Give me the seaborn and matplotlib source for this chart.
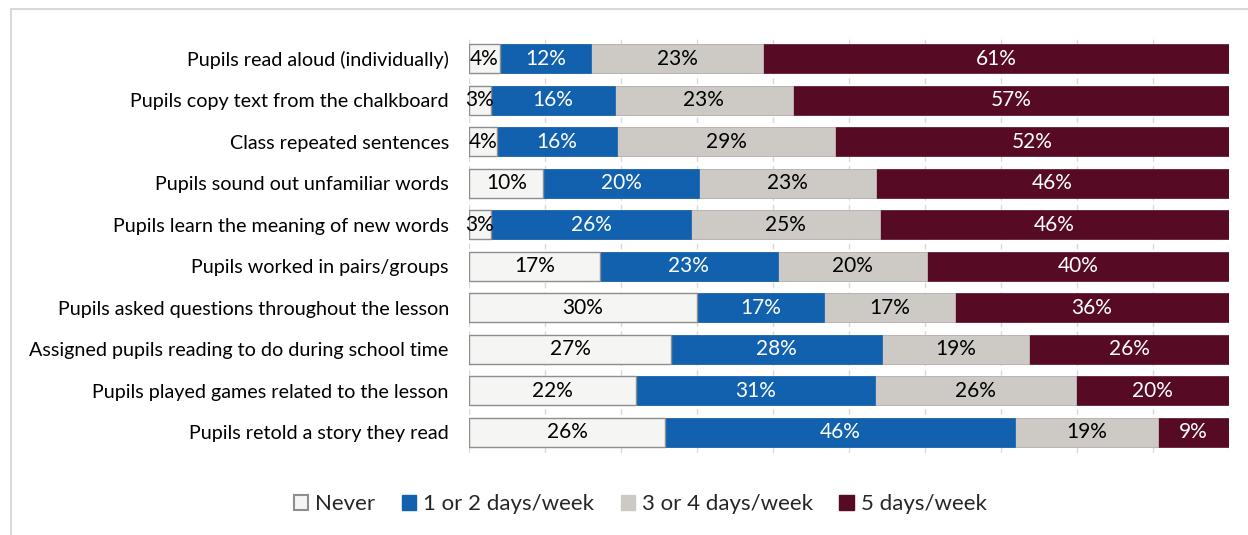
import numpy as np
import pandas as pd
import matplotlib
matplotlib.use("Agg")
import matplotlib.pyplot as plt
from matplotlib.patches import Patch, Rectangle
import seaborn as sns

# Share of lessons (%) in which each activity took place, by frequency
activities = [
    "Pupils read aloud (individually)",
    "Pupils copy text from the chalkboard",
    "Class repeated sentences",
    "Pupils sound out unfamiliar words",
    "Pupils learn the meaning of new words",
    "Pupils worked in pairs/groups",
    "Pupils asked questions throughout the lesson",
    "Assigned pupils reading to do during school time",
    "Pupils played games related to the lesson",
    "Pupils retold a story they read",
]
never = [4.1, 2.9, 3.7, 9.8, 2.9, 17.2, 30.0, 26.6, 22.0, 25.8]
one_two_days = [12.0, 16.3, 15.8, 20.4, 26.3, 23.4, 16.7, 27.8, 31.4, 46.1]
three_four_days = [22.6, 23.4, 28.7, 23.4, 24.9, 19.7, 17.2, 19.3, 26.4, 18.8]
five_days = [61.3, 57.4, 51.8, 46.4, 45.9, 39.7, 36.1, 26.3, 20.2, 9.3]

series_names = ["Never", "1 or 2 days/week", "3 or 4 days/week", "5 days/week"]
series_values = [never, one_two_days, three_four_days, five_days]
fill_colors = ["#f5f5f3", "#1261ae", "#cdcac6", "#560a24"]
text_colors = ["#000000", "#ffffff", "#000000", "#ffffff"]

sns.set_theme(style="white")
plt.rcParams["font.family"] = ["Lato", "DejaVu Sans"]

fig = plt.figure(figsize=(12.48, 5.35), dpi=100)
ax = fig.add_axes([0.3758, 0.153, 0.609, 0.776])

# Cumulative ends of every segment, drawn from the longest back to the shortest
values = np.array(series_values)
ends = np.cumsum(values, axis=0)
starts = ends - values

for i in reversed(range(len(series_names))):
    df = pd.DataFrame({"activity": activities, "end": ends[i]})
    sns.barplot(
        data=df, x="end", y="activity", orient="h", order=activities,
        color=fill_colors[i], saturation=1, width=0.7, ax=ax,
        edgecolor="#8e8e8e" if i == 0 else fill_colors[i],
        linewidth=1.0 if i == 0 else 0.5,
    )

# Segment value labels
for i in range(len(series_names)):
    for row, (s, v) in enumerate(zip(starts[i], values[i])):
        ax.text(s + v / 2, row, f"{round(v):d}%", ha="center", va="center",
                fontsize=15, color=text_colors[i])

ax.set_xlim(0, 100)
ax.set_ylim(len(activities) - 0.5, -0.5)
ax.set_xticks(np.arange(0, 101, 10))
ax.xaxis.grid(True, color="#d9d9d9", linestyle=(0, (4, 3)), linewidth=1.0)
ax.set_axisbelow(True)
ax.tick_params(axis="x", bottom=False, labelbottom=False)
ax.tick_params(axis="y", left=False, labelsize=14.2, pad=8.5, colors="#000000")
ax.set_xlabel("")
ax.set_ylabel("")
for side in ["top", "right", "bottom", "left"]:
    ax.spines[side].set_visible(False)

handles = [
    Patch(facecolor=fill_colors[0], edgecolor="#8e8e8e", linewidth=1.5, label=series_names[0]),
    Patch(facecolor=fill_colors[1], edgecolor=fill_colors[1], label=series_names[1]),
    Patch(facecolor=fill_colors[2], edgecolor=fill_colors[2], label=series_names[2]),
    Patch(facecolor=fill_colors[3], edgecolor=fill_colors[3], label=series_names[3]),
]
fig.legend(handles=handles, loc="center", bbox_to_anchor=(0.513, 0.058), ncol=4,
           frameon=False, fontsize=16, handlelength=0.65, handleheight=0.65,
           handletextpad=0.3, columnspacing=1.2)

# Outer chart frame
fig.patches.append(Rectangle((11 / 1248, -0.05), 1.1, 1 - 9 / 535 + 0.05,
                             transform=fig.transFigure, fill=False,
                             edgecolor="#d9d9d9", linewidth=1.5))

fig.savefig("out.png", dpi=100)
